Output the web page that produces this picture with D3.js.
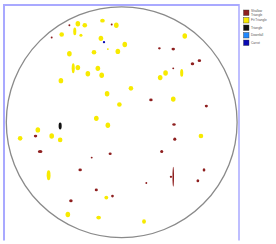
<!DOCTYPE html>
<html>
<head>
<meta charset="utf-8">
<script src="https://cdn.jsdelivr.net/npm/d3@7"></script>
<style>
html,body{margin:0;padding:0;background:#fff;}
svg{display:block;}
</style>
</head>
<body>
<svg id="chart" width="276" height="244"></svg>
<script>
// Wafer coordinates in mm (wafer radius 150 mm), defect extent (w, h) in mm
const categories = ["Shallow Triangle", "Fit Triangle", "Triangle", "Downfall", "Carrot"];
const categoryColors = ["#8e1f1f", "#f7ea00", "#111111", "#1e88ff", "#0a0ab4"];

const fitX = [-57,-48,-25,-7,-78,-61,-53,-27,4,-18,-36,-5,-68,82,-63,-57,-44,-31,-26,-79,57,50,78,-19,12,-3,67,-33,-18,-109,-91,-80,-132,103,-95,-20,-70,-30,29];
const fitY = [128,126,132,126,114,118,113,109,101,95,91,92,89,112,70,71,63,70,61,54,64,58,64,37,44,23,30,5,-4,-10,-18,-23,-21,-18,-69,-98,-120,-124,-129];
const fitW = [6,6,6,6,6,4,4,6,6,2.5,6,6,6,6,4,6,6,6,6,6,6,6,4,6,6,6,6,6,6,6,6,6,6,6,5,5,6,6,5];
const fitH = [7,6,5,7,6,10,4,7,7,2.5,6,7,7,7,13,7,7,7,7,7,7,7,10,7,6,6,7,7,7,7,7,6,6,6,13,5,7,5,6];

const shallowX = [-68,-13,-91,49,67,101,92,67,38,110,68,69,-112,-106,52,-39,-15,-54,107,99,32,67,64,-33,-12,-66];
const shallowY = [126,127,110,96,95,80,76,70,29,21,-3,-22,-18,-38,-38,-46,-41,-62,-62,-76,-79,-71,-71,-88,-96,-102];
const shallowW = [2.5,2.5,2.5,3.5,4.5,4.5,4.5,2.5,4.5,4,4.5,4,4.5,6,4,2.5,4,4.5,3.5,3.5,2.5,2,3,4,3.5,4.5];
const shallowH = [2.5,2.5,2.5,3,3.5,3.5,4,2.5,3.5,3.5,3.5,4,3.5,4,4,2.5,3.5,3.5,4,4,2.5,26,3,3.5,3.5,4];

const triX = [-80];
const triY = [-5];
const triW = [4];
const triH = [9];

const downX = [];
const downY = [];
const downW = [];
const downH = [];

const carrotX = [-23];
const carrotY = [104];
const carrotW = [3];
const carrotH = [3];

const svg = d3.select("#chart");
const cx = 121.7, cy = 122.2, R = 115.4;
const x = d3.scaleLinear().domain([-150, 150]).range([cx - R, cx + R]);
const y = d3.scaleLinear().domain([-150, 150]).range([cy + R, cy - R]);
const sx = v => x(v) - x(0);
const color = d3.scaleOrdinal().domain(categories).range(categoryColors);

// frame
const frameColor = "#a9a9ff";
svg.append("line").attr("x1",4).attr("x2",4).attr("y1",4).attr("y2",240.5)
  .attr("stroke",frameColor).attr("stroke-width",2);
svg.append("line").attr("x1",3).attr("x2",239).attr("y1",5).attr("y2",5)
  .attr("stroke",frameColor).attr("stroke-width",2);
svg.append("line").attr("x1",239).attr("x2",239).attr("y1",4).attr("y2",240.5)
  .attr("stroke",frameColor).attr("stroke-width",1.5);

// wafer outline
svg.append("circle").attr("cx", x(0)).attr("cy", y(0)).attr("r", sx(150))
  .attr("fill","#fff").attr("stroke","#8a8a8a").attr("stroke-width",1.3);

function drawSet(cat, X, Y, W, H) {
  const data = X.map((v,i) => ({x:v, y:Y[i], w:W[i], h:H[i]}));
  svg.append("g").selectAll("ellipse").data(data).join("ellipse")
    .attr("cx", d => x(d.x)).attr("cy", d => y(d.y))
    .attr("rx", d => sx(d.w)/2).attr("ry", d => sx(d.h)/2)
    .attr("fill", color(cat));
}
drawSet("Fit Triangle", fitX, fitY, fitW, fitH);
drawSet("Shallow Triangle", shallowX, shallowY, shallowW, shallowH);
drawSet("Triangle", triX, triY, triW, triH);
drawSet("Downfall", downX, downY, downW, downH);
drawSet("Carrot", carrotX, carrotY, carrotW, carrotH);

// legend
const legend = svg.append("g");
const legendLabels = [["Shallow","Triangle"],["Fit Triangle"],["Triangle"],["Downfall"],["Carrot"]];
categories.forEach((c,i) => {
  const ty = 10 + i*7.5;
  legend.append("rect").attr("x",243.5).attr("y",ty).attr("width",5.5).attr("height",5.5)
    .attr("fill", color(c)).attr("stroke","#333").attr("stroke-width",0.4);
  const lab = legendLabels[i];
  lab.forEach((t,j) => {
    legend.append("text").attr("x",251).attr("y", lab.length>1 ? ty+2.4+j*3.2 : ty+3.9)
      .attr("font-family","Arial, Liberation Sans, sans-serif").attr("font-size",3.2)
      .attr("fill","#555").text(t);
  });
});
</script>
</body>
</html>
